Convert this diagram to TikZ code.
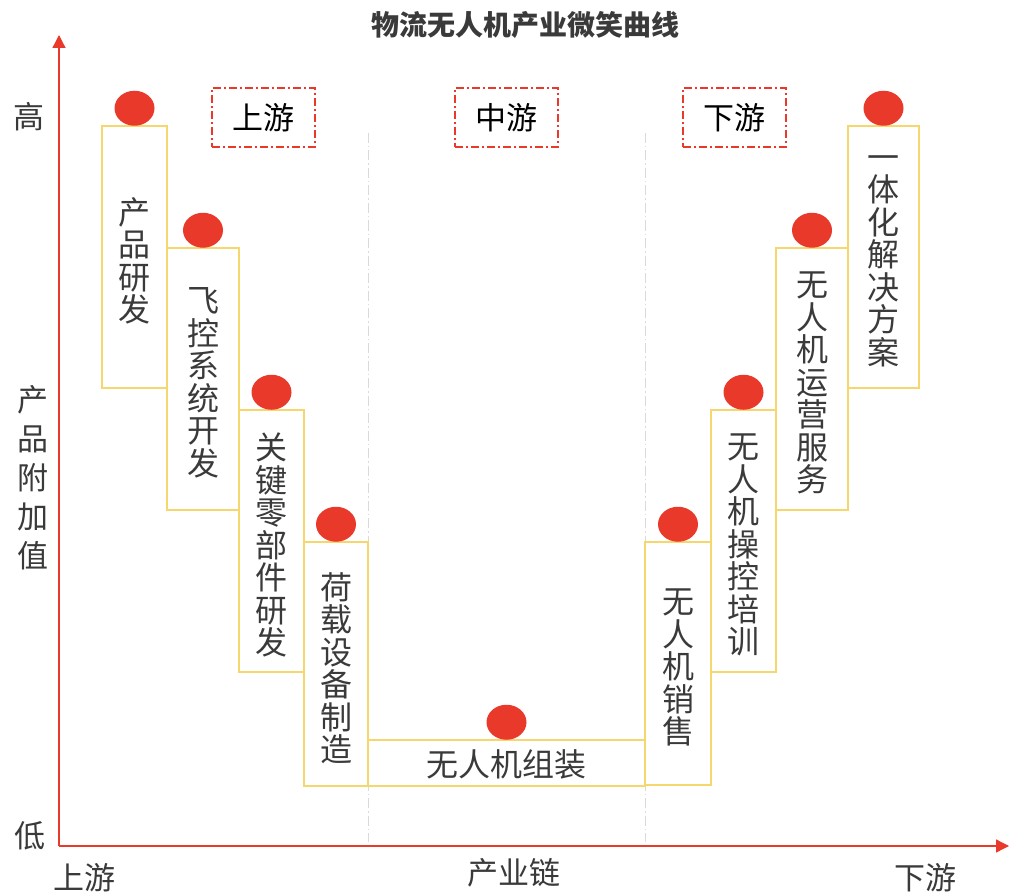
\documentclass[tikz,border=0pt]{standalone}
\usepackage{fontspec}
\setmainfont{Noto Sans CJK SC}
\usetikzlibrary{arrows.meta,shapes.geometric}
\definecolor{axisred}{HTML}{E8392A}
\definecolor{dotred}{HTML}{E8392A}
\definecolor{boxyellow}{HTML}{F5D76E}
\definecolor{txt}{HTML}{3A3A3A}
\definecolor{sep}{HTML}{DADADA}
\tikzset{
  stagebox/.style={draw=boxyellow,line width=1.5pt,rectangle,inner sep=0pt,align=center,text=txt,font=\fontsize{32}{32.5}\selectfont},
  stagetext/.style={inner sep=0pt,align=center,text=txt,font=\fontsize{32}{32.5}\selectfont},
  dot/.style={ellipse,fill=dotred,draw=none,minimum width=40pt,minimum height=35pt,inner sep=0pt},
  tagbox/.style={draw=axisred,line width=1.6pt,dash pattern=on 8pt off 3pt on 2pt off 3pt,minimum width=103pt,minimum height=59pt,inner sep=0pt,text=black,font=\fontsize{31}{32}\selectfont},
  axislabel/.style={text=txt,font=\fontsize{31}{32}\selectfont,inner sep=0pt,align=center},
  axisline/.style={draw=axisred,line width=1.3pt,-{Triangle[length=13pt,width=13pt]}},
  sepline/.style={draw=sep,line width=1pt,dash pattern=on 10pt off 3pt on 1.5pt off 3pt}
}
\begin{document}
\begin{tikzpicture}[x=1pt,y=-1pt]
\useasboundingbox (0,0) rectangle (1009,896);
% title
\node[text=txt,font=\fontsize{28}{30}\selectfont\bfseries] (title) at (525,25) {物流无人机产业微笑曲线};
% separators
\coordinate (s1t) at (368,133); \coordinate (s1b) at (368,842);
\coordinate (s2t) at (645,133); \coordinate (s2b) at (645,842);
\draw[sepline] (s1t) -- (s1b);
\draw[sepline] (s2t) -- (s2b);
% axes
\coordinate (o) at (59,846);
\coordinate (ytop) at (59,35);
\coordinate (xend) at (1009,846);
\draw[axisline] (o) -- (ytop);
\draw[axisline] (o) -- (xend);
% axis labels
\node[axislabel] (hi) at (29,117) {高};
\node[axislabel] (lo) at (30,836) {低};
\node[axislabel,font=\fontsize{31}{39}\selectfont] (val) at (33,478) {产\\品\\附\\加\\值};
\node[axislabel] (up) at (84,878) {上游};
\node[axislabel] (chain) at (514,873) {产业链};
\node[axislabel] (down) at (925,878) {下游};
% tags
\node[tagbox] (t1) at (263.5,117.5) {上游};
\node[tagbox] (t2) at (506.5,117.5) {中游};
\node[tagbox] (t3) at (734.5,117.5) {下游};
% stages
\node[stagebox,minimum width=65pt,minimum height=262pt] (b1) at (134.5,257) {};
\node[stagebox,minimum width=72pt,minimum height=262pt] (b2) at (203,379) {};
\node[stagebox,minimum width=65pt,minimum height=262pt] (b3) at (271.5,541) {};
\node[stagebox,minimum width=64pt,minimum height=244pt] (b4) at (336,664) {};
\node[stagebox,minimum width=277pt,minimum height=46pt] (b5) at (506.5,763) {};
\node[stagebox,minimum width=66pt,minimum height=243pt] (b6) at (678,663.5) {};
\node[stagebox,minimum width=65pt,minimum height=262pt] (b7) at (743.5,541) {};
\node[stagebox,minimum width=72pt,minimum height=262pt] (b8) at (812,379) {};
\node[stagebox,minimum width=71pt,minimum height=262pt] (b9) at (883.5,257) {};
\node[stagetext] (l1) at ([yshift=-4pt]b1.center) {产\\品\\研\\发};
\node[stagetext] (l2) at ([yshift=-4pt]b2.center) {飞\\控\\系\\统\\开\\发};
\node[stagetext] (l3) at ([yshift=-4pt]b3.center) {关\\键\\零\\部\\件\\研\\发};
\node[stagetext] (l4) at ([yshift=-4pt]b4.center) {荷\\载\\设\\备\\制\\造};
\node[stagetext] (l5) at ([yshift=-1pt]b5.center) {无人机组装};
\node[stagetext] (l6) at ([yshift=-4pt]b6.center) {无\\人\\机\\销\\售};
\node[stagetext] (l7) at ([yshift=-4pt]b7.center) {无\\人\\机\\操\\控\\培\\训};
\node[stagetext] (l8) at ([yshift=-4pt]b8.center) {无\\人\\机\\运\\营\\服\\务};
\node[stagetext] (l9) at ([yshift=-4pt]b9.center) {一\\体\\化\\解\\决\\方\\案};
% dots
\foreach \b in {b1,b2,b3,b4,b5,b6,b7,b8,b9}{
  \node[dot] (d\b) at ([yshift=17pt]\b.north) {};
}
\end{tikzpicture}
\end{document}
